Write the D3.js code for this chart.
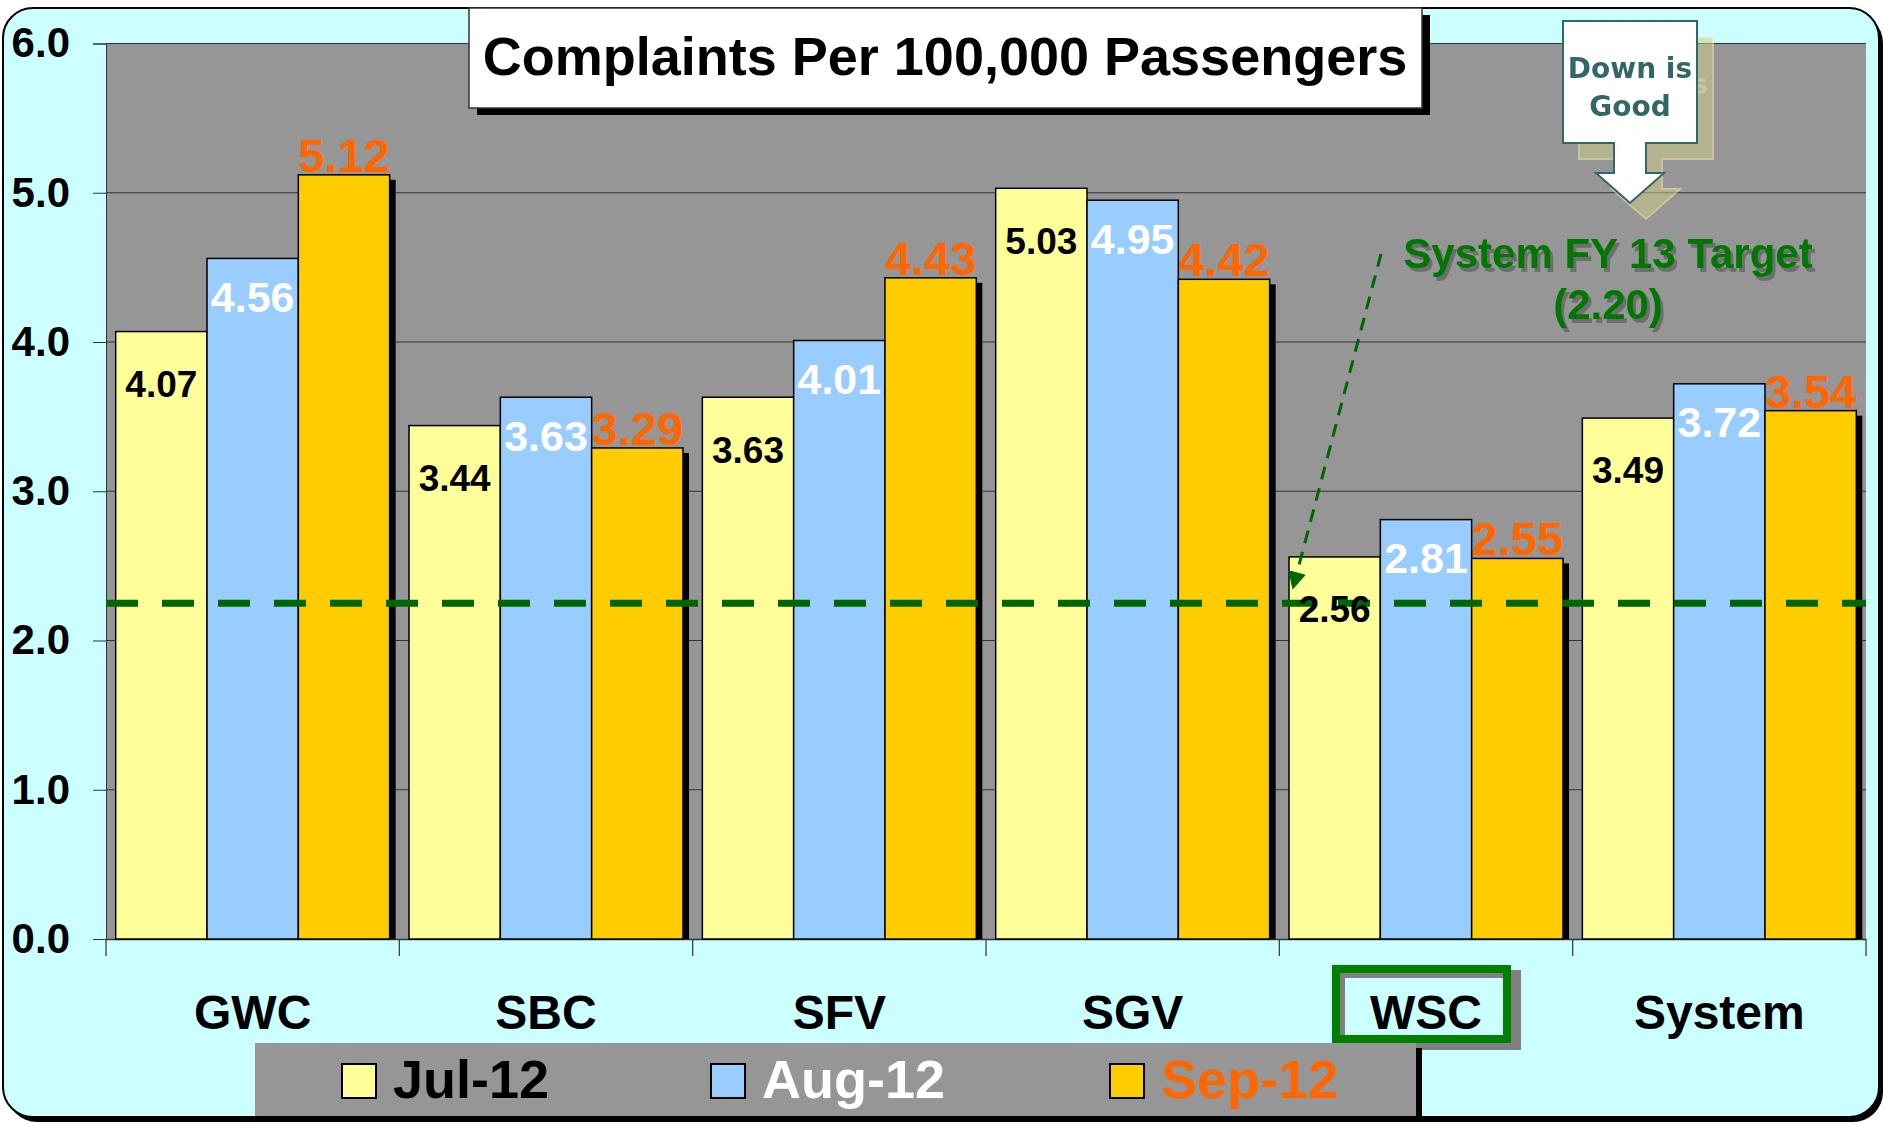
<!DOCTYPE html>
<html>
<head>
<meta charset="utf-8">
<script src="https://cdn.jsdelivr.net/npm/d3@7"></script>
<style>
  body { margin: 0; background: #fff; }
  text { font-family: "Liberation Sans", Arial, sans-serif; font-weight: bold; }
</style>
</head>
<body>
<div id="chart"></div>
<script>
// chart values
const categories = ['GWC', 'SBC', 'SFV', 'SGV', 'WSC', 'System'];
const seriesNames = ['Jul-12', 'Aug-12', 'Sep-12'];
const jul12 = [4.07, 3.44, 3.63, 5.03, 2.56, 3.49];
const aug12 = [4.56, 3.63, 4.01, 4.95, 2.81, 3.72];
const sep12 = [5.12, 3.29, 4.43, 4.42, 2.55, 3.54];
const yTicks = [0, 1, 2, 3, 4, 5, 6];
const targetLine = 2.25;
const targetText = ['System FY 13 Target', '(2.20)'];
const highlighted = 'WSC';
const chartTitle = 'Complaints Per 100,000 Passengers';

const seriesValues = [jul12, aug12, sep12];
const fills = ['#FFFF99', '#99CCFF', '#FFCC00'];
const labelColors = ['#000', '#fff', '#FF6600'];
const labelSizes = [37, 43, 47];
const labelOffsets = [52, 38, -20];   // label centre relative to bar top

const width = 1884, height = 1124;
const margin = { top: 43.5, left: 106, right: 18, bottom: 185 };
const plotW = width - margin.left - margin.right,
      plotH = height - margin.top - margin.bottom;

const svg = d3.select('#chart').append('svg')
  .attr('width', width)
  .attr('height', height);

const defs = svg.append('defs');

// faded offset copy used behind the "Down is Good" callout
const cs = defs.append('filter')
  .attr('id', 'callShadow')
  .attr('x', '-20%').attr('y', '-20%').attr('width', '150%').attr('height', '150%')
  .attr('color-interpolation-filters', 'sRGB');
cs.append('feOffset').attr('in', 'SourceGraphic').attr('dx', 16).attr('dy', 16).attr('result', 'off');
cs.append('feColorMatrix').attr('in', 'off').attr('type', 'matrix')
  .attr('values', '-0.2 0 0 0 1  0 -0.2 0 0 1  0 0 -0.17 0 0.7  0 0 0 0.55 0')
  .attr('result', 'col');
const csm = cs.append('feMerge');
csm.append('feMergeNode').attr('in', 'col');
csm.append('feMergeNode').attr('in', 'SourceGraphic');

// gray drop shadow for the target annotation text
defs.append('filter')
  .attr('id', 'textShadow')
  .attr('color-interpolation-filters', 'sRGB')
  .append('feDropShadow')
  .attr('dx', 3).attr('dy', 4).attr('stdDeviation', 0.3)
  .attr('flood-color', '#6e6e6e').attr('flood-opacity', 1);

defs.append('marker')
  .attr('id', 'head')
  .attr('viewBox', '0 0 10 10')
  .attr('refX', 9).attr('refY', 5)
  .attr('markerWidth', 6).attr('markerHeight', 6)
  .attr('orient', 'auto')
  .append('path')
  .attr('d', 'M0,0L10,5L0,10Z')
  .attr('fill', '#006600');

// outer panel with shadow
svg.append('rect')
  .attr('x', 7).attr('y', 13).attr('width', 1876).attr('height', 1109)
  .attr('rx', 30).attr('fill', '#000');
svg.append('rect')
  .attr('x', 3).attr('y', 8).attr('width', 1876).attr('height', 1109)
  .attr('rx', 30).attr('fill', '#CCFFFF').attr('stroke', '#000').attr('stroke-width', 2);

const g = svg.append('g')
  .attr('transform', 'translate(' + margin.left + ',' + margin.top + ')');

// scales
const x0 = d3.scaleBand()
  .domain(categories)
  .range([0, plotW])
  .paddingInner(0.066)
  .paddingOuter(0.033);

const x1 = d3.scaleBand()
  .domain(seriesNames)
  .range([0, x0.bandwidth()]);

const y = d3.scaleLinear()
  .domain([0, 6])
  .range([plotH, 0]);

// plot area
g.append('rect')
  .attr('width', plotW).attr('height', plotH)
  .attr('fill', '#969696');

// gridlines
g.append('g')
  .selectAll('line')
  .data(yTicks.filter(d => d > 0))
  .join('line')
  .attr('x1', 0).attr('x2', plotW)
  .attr('y1', d => y(d)).attr('y2', d => y(d))
  .attr('stroke', '#333').attr('stroke-width', 1.2);

// y axis
const yAxis = g.append('g')
  .call(d3.axisLeft(y).tickValues(yTicks).tickSize(13).tickPadding(23).tickFormat(d3.format('.1f')));
yAxis.select('.domain').attr('stroke', '#333');
yAxis.selectAll('.tick line').attr('stroke', '#333');
yAxis.selectAll('.tick text')
  .attr('fill', '#000')
  .style('font-size', '42px')
  .style('font-family', '"Liberation Sans", Arial, sans-serif')
  .style('font-weight', 'bold');

// x axis: labels through the band scale, boundary ticks drawn separately
const xAxis = g.append('g')
  .attr('transform', 'translate(0,' + plotH + ')')
  .call(d3.axisBottom(x0).tickSize(0).tickPadding(56));
xAxis.select('.domain').attr('stroke', '#333').attr('stroke-width', 1.5);
xAxis.selectAll('.tick text')
  .attr('fill', '#000')
  .style('font-size', '48px')
  .style('font-family', '"Liberation Sans", Arial, sans-serif')
  .style('font-weight', 'bold');

const half = (x0.step() - x0.bandwidth()) / 2;
const bounds = categories.map(c => x0(c) - half).concat([plotW]);
xAxis.append('g')
  .selectAll('line')
  .data(bounds)
  .join('line')
  .attr('x1', d => d).attr('x2', d => d)
  .attr('y1', 0).attr('y2', 17)
  .attr('stroke', '#333').attr('stroke-width', 1.2);

// shadow behind the last series
g.append('g')
  .selectAll('rect')
  .data(sep12)
  .join('rect')
  .attr('x', (d, i) => x0(categories[i]) + x1(seriesNames[2]) + 6)
  .attr('y', d => y(d) + 5)
  .attr('width', x1.bandwidth())
  .attr('height', d => y(0) - y(d) - 5)
  .attr('fill', '#000');

// bars
seriesValues.forEach((vals, s) => {
  g.append('g')
    .selectAll('rect')
    .data(vals)
    .join('rect')
    .attr('x', (d, i) => x0(categories[i]) + x1(seriesNames[s]))
    .attr('y', d => y(d))
    .attr('width', x1.bandwidth())
    .attr('height', d => y(0) - y(d))
    .attr('fill', fills[s])
    .attr('stroke', '#000')
    .attr('stroke-width', 1.5);
});

// target line
g.append('line')
  .attr('x1', 0).attr('x2', plotW)
  .attr('y1', y(targetLine)).attr('y2', y(targetLine))
  .attr('stroke', '#006600')
  .attr('stroke-width', 7)
  .attr('stroke-dasharray', '32,24');

// value labels
seriesValues.forEach((vals, s) => {
  g.append('g')
    .selectAll('text')
    .data(vals)
    .join('text')
    .attr('x', (d, i) => x0(categories[i]) + x1(seriesNames[s]) + x1.bandwidth() / 2)
    .attr('y', d => y(d) + labelOffsets[s])
    .attr('dy', '0.36em')
    .attr('text-anchor', 'middle')
    .attr('fill', labelColors[s])
    .style('font-size', labelSizes[s] + 'px')
    .text(d => d3.format('.2f')(d));
});

// title box
svg.append('rect')
  .attr('x', 477).attr('y', 15).attr('width', 953).attr('height', 100)
  .attr('fill', '#000');
svg.append('rect')
  .attr('x', 469).attr('y', 8).attr('width', 953).attr('height', 100)
  .attr('fill', '#fff').attr('stroke', '#333').attr('stroke-width', 1.5);
svg.append('text')
  .attr('x', 945).attr('y', 75)
  .attr('text-anchor', 'middle')
  .style('font-size', '54px')
  .attr('fill', '#000')
  .text(chartTitle);

// "Down is Good" callout
const callout = d3.path();
callout.moveTo(1563, 21);
callout.lineTo(1697, 21);
callout.lineTo(1697, 143);
callout.lineTo(1646, 143);
callout.lineTo(1646, 173);
callout.lineTo(1664, 173);
callout.lineTo(1630, 203);
callout.lineTo(1596, 173);
callout.lineTo(1614, 173);
callout.lineTo(1614, 143);
callout.lineTo(1563, 143);
callout.closePath();

const call = svg.append('g').attr('filter', 'url(#callShadow)');
call.append('path')
  .attr('d', callout.toString())
  .attr('fill', '#fff').attr('stroke', '#336666').attr('stroke-width', 2);
call.append('text')
  .attr('x', 1630).attr('y', 78)
  .attr('text-anchor', 'middle')
  .style('font-family', '"DejaVu Sans", Verdana, sans-serif')
  .style('font-size', '28px')
  .attr('fill', '#336666')
  .selectAll('tspan')
  .data(['Down is', 'Good'])
  .join('tspan')
  .attr('x', 1630)
  .attr('dy', (d, i) => i ? 38 : 0)
  .text(d => d);

// target annotation text
svg.append('text')
  .attr('x', 1608).attr('y', 268)
  .attr('text-anchor', 'middle')
  .attr('filter', 'url(#textShadow)')
  .style('font-size', '42px')
  .attr('fill', '#007700')
  .selectAll('tspan')
  .data(targetText)
  .join('tspan')
  .attr('x', 1608)
  .attr('dy', (d, i) => i ? 51 : 0)
  .text(d => d);

// dashed pointer to the target line
svg.append('line')
  .attr('x1', 1381).attr('y1', 254)
  .attr('x2', 1293).attr('y2', 588)
  .attr('stroke', '#006600')
  .attr('stroke-width', 3)
  .attr('stroke-dasharray', '13,9')
  .attr('marker-end', 'url(#head)');

// highlight box round the WSC label
const hx = margin.left + x0(highlighted) + x0.bandwidth() / 2;
svg.append('rect')
  .attr('x', hx - 83).attr('y', 970).attr('width', 178).attr('height', 80)
  .attr('fill', '#808080');
svg.append('rect')
  .attr('x', hx - 90).attr('y', 969).attr('width', 171).attr('height', 70)
  .attr('fill', '#CCFFFF').attr('stroke', '#008000').attr('stroke-width', 8);
svg.append('path')
  .attr('d', 'M' + (hx - 83.5) + ',1035V975.5H' + (hx + 77))
  .attr('fill', 'none').attr('stroke', '#808080').attr('stroke-width', 5);
svg.append('text')
  .attr('x', hx).attr('y', 1029)
  .attr('text-anchor', 'middle')
  .style('font-size', '48px')
  .attr('fill', '#000')
  .text(highlighted);
// the boxed label replaces the axis one
xAxis.selectAll('.tick').filter(d => d === highlighted).select('text').remove();

// legend
const legX = [342, 711, 1110];
svg.append('rect')
  .attr('x', 260).attr('y', 1048).attr('width', 1162).attr('height', 72)
  .attr('fill', '#000');
svg.append('rect')
  .attr('x', 255).attr('y', 1043).attr('width', 1161).attr('height', 73)
  .attr('fill', '#969696');
const leg = svg.append('g')
  .selectAll('g')
  .data(seriesNames)
  .join('g')
  .attr('transform', (d, i) => 'translate(' + legX[i] + ',1064)');
leg.append('rect')
  .attr('width', 34).attr('height', 34)
  .attr('fill', (d, i) => fills[i])
  .attr('stroke', '#000').attr('stroke-width', 2);
leg.append('text')
  .attr('x', 51).attr('y', 34)
  .style('font-size', '54px')
  .attr('fill', (d, i) => labelColors[i])
  .text(d => d);
</script>
</body>
</html>
